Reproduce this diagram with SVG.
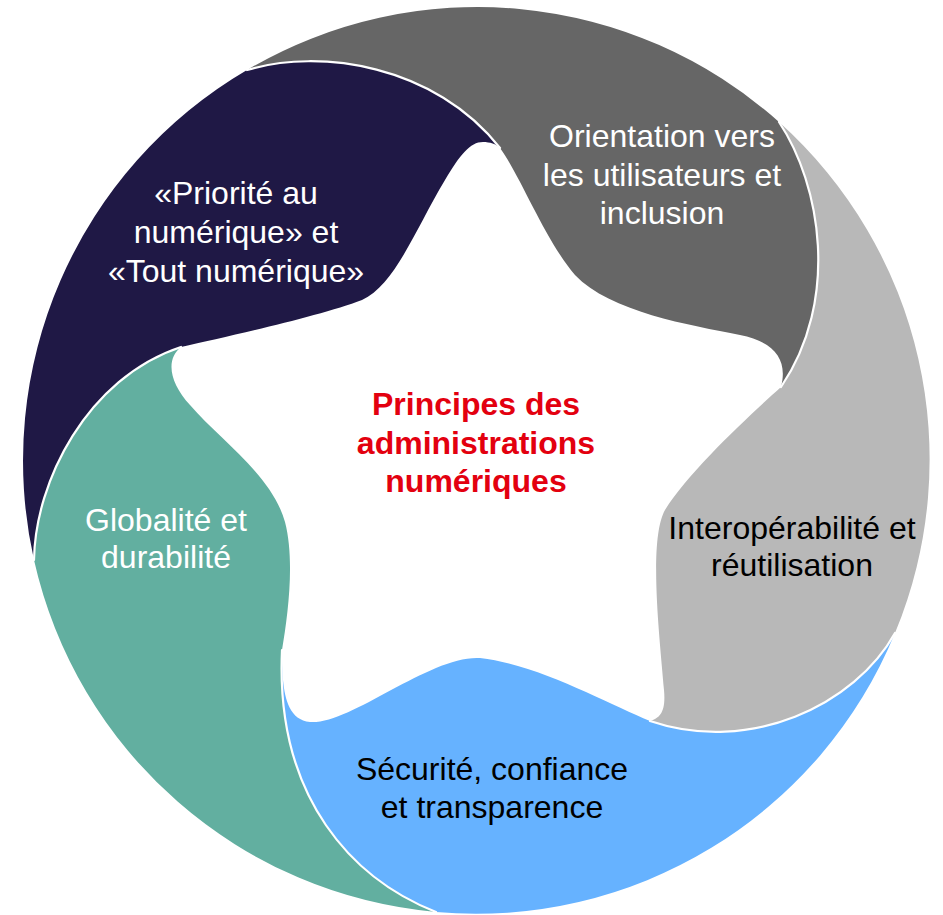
<svg xmlns="http://www.w3.org/2000/svg" width="943" height="915" viewBox="0 0 943 915">
<style>
.lbl{font-family:"Liberation Sans",Arial,sans-serif;font-size:32px;text-anchor:middle}
.wt{fill:#ffffff}
.bk{fill:#000000}
.title{font-weight:bold;fill:#E3000F}
.sep{fill:none;stroke:#ffffff;stroke-width:2.2;stroke-linecap:round}
</style>
<rect width="943" height="915" fill="#ffffff"/>
<g id="blade-numerique">
<path fill="#1F1845" d="M247,70 C320,48 435,65 500,148 C496,144 490,142 483,142 C470,142 460,155 445,180 C415,230 395,285 362,300 C320,316 230,336 181,347 C87,378 35,482 34,560 A453,453 0 0 1 247,70 Z"/>
<text class="lbl wt" x="236" y="204">«Priorité au</text>
<text class="lbl wt" x="236" y="243">numérique» et</text>
<text class="lbl wt" x="236" y="282">«Tout numérique»</text>
</g>
<g id="blade-utilisateurs">
<path fill="#666666" d="M779,122 C821,185 840,300 781,387 C788,360 775,342 740,335 C690,325 610,312 575,275 C545,240 520,175 500,148 C435,65 320,48 247,70 A453,453 0 0 1 779,122 Z"/>
<text class="lbl wt" x="662" y="147">Orientation vers</text>
<text class="lbl wt" x="662" y="186">les utilisateurs et</text>
<text class="lbl wt" x="662" y="224">inclusion</text>
</g>
<g id="blade-interoperabilite">
<path fill="#B8B8B8" d="M895,633 C855,705 750,755 650,721 C660,718 666,712 664,690 C660,640 648,540 665,510 C690,470 750,415 781,387 C840,300 821,185 779,122 A453,453 0 0 1 895,633 Z"/>
<text class="lbl bk" x="792" y="539">Interopérabilité et</text>
<text class="lbl bk" x="792" y="576">réutilisation</text>
</g>
<g id="blade-securite">
<path fill="#66B2FF" d="M436,912 C355,880 275,800 282,650 C282,658 282,665 283,680 C285,700 290,720 310,722 C350,725 430,655 480,658 C540,665 610,705 650,721 C750,755 855,705 895,633 A453,453 0 0 1 436,912 Z"/>
<text class="lbl bk" x="492" y="780">Sécurité, confiance</text>
<text class="lbl bk" x="492" y="818">et transparence</text>
</g>
<g id="blade-globalite">
<path fill="#62AFA0" d="M34,560 C35,482 87,378 181,347 C165,360 170,383 190,405 C220,440 272,475 285,522 C295,560 288,615 282,650 C275,800 355,880 436,912 A453,453 0 0 1 34,560 Z"/>
<text class="lbl wt" x="166" y="531">Globalité et</text>
<text class="lbl wt" x="166" y="568">durabilité</text>
</g>
<g id="separators">
<path class="sep" d="M247,70 C320,48 435,65 500,148"/>
<path class="sep" d="M779,122 C821,185 840,300 781,387"/>
<path class="sep" d="M895,633 C855,705 750,755 650,721"/>
<path class="sep" d="M436,912 C355,880 275,800 282,650"/>
<path class="sep" d="M34,560 C35,482 87,378 181,347"/>
</g>
<g id="center-label">
<text class="lbl title" x="476" y="415">Principes des</text>
<text class="lbl title" x="476" y="454">administrations</text>
<text class="lbl title" x="476" y="492">numériques</text>
</g>
</svg>
